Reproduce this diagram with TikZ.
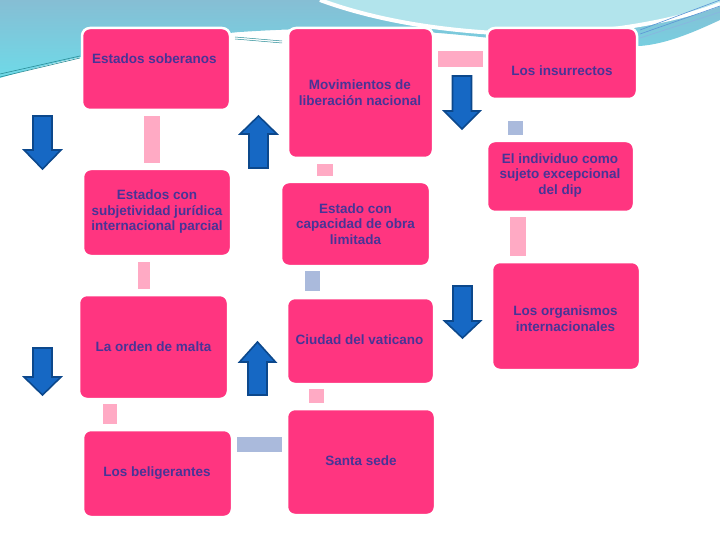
\documentclass[tikz,border=0pt]{standalone}
\usepackage{fontspec}
\setmainfont{Liberation Sans}
\definecolor{boxpink}{RGB}{255,53,128}
\definecolor{conpink}{RGB}{255,170,196}
\definecolor{conlav}{RGB}{170,186,220}
\definecolor{arrfill}{RGB}{22,104,196}
\definecolor{arrdraw}{RGB}{12,72,140}
\definecolor{txt}{RGB}{72,52,150}
\definecolor{bgblue}{RGB}{134,190,212}
\definecolor{bgcyan}{RGB}{110,218,232}
\definecolor{bglight}{RGB}{178,228,236}
\definecolor{teal}{RGB}{40,140,150}
\newcommand{\myArr}[6]{% cx, shaft half, head half, y start, y head base, y tip
  \draw[arrowshape] ({#1-#2},#4) -- ({#1+#2},#4) -- ({#1+#2},#5) -- ({#1+#3},#5) -- (#1,#6)
    -- ({#1-#3},#5) -- ({#1-#2},#5) -- cycle;}
\begin{document}
\begin{tikzpicture}[x=1pt,y=-1pt,
  box/.style={fill=boxpink, draw=white, line width=2.5pt, rounded corners=8pt, inner sep=0pt},
  lbl/.style={text=txt, font=\fontsize{13.5}{15.5}\selectfont\bfseries, align=center, inner sep=0pt},
  conp/.style={draw=conpink, line cap=butt},
  conl/.style={draw=conlav, line cap=butt},
  arrowshape/.style={fill=arrfill, draw=arrdraw, line width=1.6pt, line join=miter}]
\useasboundingbox (0,0) rectangle (720,540);
% background decoration
\shade[top color=bgblue, bottom color=bgcyan] (0,0) -- (720,0) -- (720,20)
  .. controls (690,34) and (665,44) .. (640,46) -- (490,38)
  .. controls (400,28) and (330,26) .. (240,32)
  .. controls (150,40) and (60,60) .. (0,78) -- cycle;
\fill[bglight] (320,0) .. controls (380,22) and (450,32) .. (520,34)
  .. controls (600,36) and (680,20) .. (720,4) -- (720,0) -- cycle;
\draw[white, line width=4pt] (320,0) .. controls (380,22) and (450,32) .. (520,34)
  .. controls (600,36) and (680,20) .. (720,4);
\draw[white, line width=3pt] (0,80) .. controls (60,62) and (150,42) .. (240,34);
\draw[teal, line width=0.6pt] (0,74) -- (80,56);
\draw[teal, line width=0.6pt] (0,77) -- (80,58);
\draw[teal, line width=0.5pt] (235,37) -- (282,41);
\draw[teal, line width=0.5pt] (235,39) -- (282,43);
\draw[arrfill!70, line width=0.6pt] (640,30) -- (720,0);
\draw[arrfill!70, line width=0.6pt] (640,34) -- (720,6);
\draw[arrfill!50, line width=0.6pt] (640,38) -- (720,12);
% boxes
\node[box, minimum width=148pt, minimum height=82pt]  (b1)  at (156,69)    {};
\node[box, minimum width=145pt, minimum height=130pt] (b2)  at (360.5,93)  {};
\node[box, minimum width=150pt, minimum height=71pt]  (b3)  at (562,63.5)  {};
\node[box, minimum width=148pt, minimum height=87pt]  (b4)  at (157,212.5) {};
\node[box, minimum width=149pt, minimum height=84pt]  (b5)  at (355.5,224) {};
\node[box, minimum width=147pt, minimum height=71pt]  (b6)  at (560.5,176.5) {};
\node[box, minimum width=148pt, minimum height=108pt] (b7)  at (566,316)   {};
\node[box, minimum width=149pt, minimum height=104pt] (b8)  at (153.5,347) {};
\node[box, minimum width=147pt, minimum height=86pt]  (b9)  at (360.5,341) {};
\node[box, minimum width=149pt, minimum height=87pt]  (b10) at (157.5,473.5) {};
\node[box, minimum width=148pt, minimum height=106pt] (b11) at (361,462)   {};
% labels
\node[lbl, anchor=west] (t1) at (92,59) {Estados soberanos};
\node[lbl] (t2)  at (360,92.5)   {Movimientos de\\liberación nacional};
\node[lbl] (t3)  at (562,71)     {Los insurrectos};
\node[lbl] (t4)  at (157,212)    {Estados con\\subjetividad jurídica\\internacional parcial};
\node[lbl] (t5)  at (355.5,224)  {Estado con\\capacidad de obra\\limitada};
\node[lbl] (t6)  at (560,175.5)  {El individuo como\\sujeto excepcional\\del dip};
\node[lbl] (t7)  at (565.5,318.5){Los organismos\\internacionales};
\node[lbl] (t8)  at (153.5,347)  {La orden de malta};
\node[lbl] (t9)  at (359.5,340)  {Ciudad del vaticano};
\node[lbl] (t10) at (157,473)    {Los beligerantes};
\node[lbl] (t11) at (361,461)    {Santa sede};
% connectors
\draw[conp, line width=16pt, shorten <=5pt, shorten >=5pt] ([xshift=-4pt]b1.south) -- ([xshift=-5pt]b4.north);
\draw[conp, line width=12pt, shorten <=5pt, shorten >=5pt] ([xshift=-13pt]b4.south) -- ([xshift=-9.5pt]b8.north);
\draw[conp, line width=14pt, shorten <=4pt, shorten >=5pt] ([xshift=-43.5pt]b8.south) -- ([xshift=-47.5pt]b10.north);
\draw[conl, line width=15pt, shorten <=4pt, shorten >=4pt] ([yshift=29pt]b10.east) -- ([yshift=17.5pt]b11.west);
\draw[conp, line width=15pt, shorten <=5pt, shorten >=4pt] ([xshift=-44.5pt]b11.north) -- ([xshift=-44pt]b9.south);
\draw[conl, line width=15pt, shorten <=6pt, shorten >=4pt] ([xshift=-48pt]b9.north) -- ([xshift=-43pt]b5.south);
\draw[conp, line width=16pt, shorten <=5pt, shorten >=5pt] ([xshift=-30.5pt]b5.north) -- ([xshift=-35.5pt]b2.south);
\draw[conp, line width=16pt, shorten <=4pt, shorten >=3pt] ([yshift=34pt]b2.east) -- ([yshift=4.5pt]b3.west);
\draw[conl, line width=15pt, shorten <=21pt, shorten >=5pt] ([xshift=-46.5pt]b3.south) -- ([xshift=-45pt]b6.north);
\draw[conp, line width=16pt, shorten <=4pt, shorten >=5pt] ([xshift=-42.5pt]b6.south) -- ([xshift=-48pt]b7.north);
% block arrows
\myArr{42.5}{9.5}{18.5}{116}{150}{169}
\myArr{462}{9.5}{18}{76}{111}{129}
\myArr{462.5}{9.5}{18}{286}{321}{338}
\myArr{42.5}{9.5}{18.5}{348}{377}{395}
\myArr{258.5}{9.5}{18.5}{168}{134}{116}
\myArr{257.5}{9.5}{18}{395}{362}{342}
\end{tikzpicture}
\end{document}
